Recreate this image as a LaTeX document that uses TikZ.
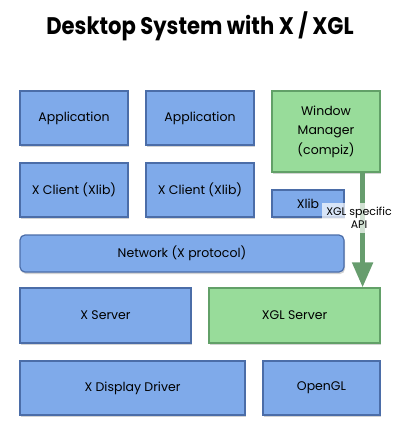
\documentclass[tikz,border=0pt]{standalone}
\usepackage{fontspec}
\setmainfont{Poppins}
\usepackage{xcolor}
\usetikzlibrary{arrows.meta,shadows}

\definecolor{boxblue}{HTML}{7FAAEA}
\definecolor{lineblue}{HTML}{4B6DA8}
\definecolor{boxgreen}{HTML}{98DC9A}
\definecolor{linegreen}{HTML}{62A068}
\definecolor{apigreen}{HTML}{679D6E}

\begin{document}
\begin{tikzpicture}[x=1pt,y=-1pt,
    layer/.style={draw=lineblue,fill=boxblue,line width=1.2pt,inner sep=0pt,
      font=\fontsize{12.5}{19.5}\selectfont,align=center,
      drop shadow={shadow xshift=1pt,shadow yshift=-2pt,opacity=0.35}},
    greenlayer/.style={layer,draw=linegreen,fill=boxgreen},
    api/.style={apigreen,line width=5pt,-{Triangle[width=20pt,length=25pt]}}]
            \useasboundingbox (0,0) rectangle (413,439);
            \node (title) at (200,26) {\scalebox{0.88}[1]{\fontsize{24}{28}\selectfont\bfseries Desktop System with X / XGL}};

            \node (app1) at (74,118) [layer,minimum width=108pt,minimum height=54pt] {Application};
            \node (app2) at (200,118) [layer,minimum width=108pt,minimum height=54pt] {Application};
            \node (wm) at (326,131.5) [greenlayer,minimum width=108pt,minimum height=81pt] {Window\\Manager\\(compiz)};
            \node (client1) at (74,190) [layer,minimum width=108pt,minimum height=54pt] {X Client (Xlib)};
            \node (client2) at (200,190) [layer,minimum width=108pt,minimum height=54pt] {X Client (Xlib)};
            \node (xlib) at (308,203.5) [layer,minimum width=72pt,minimum height=27pt] {Xlib};
            \node (net) at (182,253.5) [layer,rounded corners=5pt,minimum width=324pt,minimum height=37pt] {Network (X protocol)};
            \node (xserver) at (105.5,315.5) [layer,minimum width=171pt,minimum height=55pt] {X Server};
            \node (xgl) at (294.5,315.5) [greenlayer,minimum width=171pt,minimum height=55pt] {XGL Server};
            \node (xdd) at (132.5,388) [layer,minimum width=225pt,minimum height=54pt] {X Display Driver};
            \node (gl) at (321.5,388) [layer,minimum width=117pt,minimum height=54pt] {OpenGL};

            \draw[api] ([xshift=-18pt]wm.south east) -- ([xshift=-18pt]xgl.north east);
            \node (apilabel) at (359,218) [fill=white,fill opacity=0.7,text opacity=1,inner sep=1pt,minimum width=75pt,minimum height=30pt,align=center,font=\fontsize{11}{13}\selectfont] {XGL specific\\API};

        \end{tikzpicture}
\end{document}
